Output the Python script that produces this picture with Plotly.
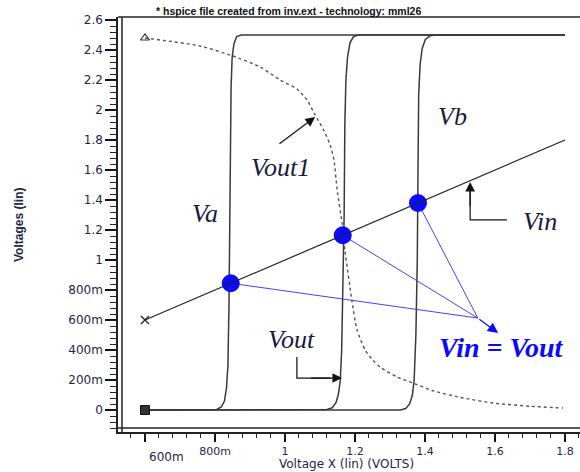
import plotly.graph_objects as go

# --- data -------------------------------------------------------------
# input sweep (straight line Vin = X)
vin_x = [0.6, 1.8]
vin_y = [0.6, 1.8]

# inverter transfer curve Vout1 (dotted)
vout1_x = [0.6, 0.757, 0.851, 0.929, 0.986, 1.034, 1.063, 1.086, 1.109, 1.129,
           1.14, 1.149, 1.163, 1.171, 1.191, 1.206, 1.229, 1.251, 1.271, 1.32,
           1.366, 1.42, 1.509, 1.6, 1.7, 1.794]
vout1_y = [2.48, 2.427, 2.36, 2.287, 2.2, 2.14, 2.067, 1.967, 1.873, 1.767,
           1.667, 1.467, 1.247, 1.067, 0.733, 0.533, 0.4, 0.333, 0.287, 0.22,
           0.18, 0.13, 0.08, 0.045, 0.025, 0.013]

# step responses Va, Vout, Vb
va_x = [0.6, 0.79, 0.805, 0.818, 0.827, 0.833, 0.837, 0.840, 0.842, 0.844,
        0.846, 0.849, 0.854, 0.862, 0.875, 1.8]
va_y = [0.0, 0.0, 0.004, 0.02, 0.06, 0.15, 0.3, 0.7, 1.2, 1.8,
        2.15, 2.35, 2.44, 2.49, 2.5, 2.5]

vout_x = [0.6, 1.10, 1.12, 1.135, 1.146, 1.153, 1.158, 1.162, 1.166, 1.169,
          1.171, 1.174, 1.179, 1.186, 1.196, 1.21, 1.8]
vout_y = [0.0, 0.0, 0.003, 0.015, 0.05, 0.11, 0.2, 0.4, 0.8, 1.3,
          1.9, 2.2, 2.36, 2.45, 2.49, 2.5, 2.5]

vb_x = [0.6, 1.33, 1.345, 1.356, 1.364, 1.369, 1.374, 1.378, 1.380, 1.382,
        1.386, 1.392, 1.401, 1.415, 1.43, 1.8]
vb_y = [0.0, 0.0, 0.01, 0.04, 0.1, 0.2, 0.5, 1.0, 1.6, 2.1,
        2.3, 2.41, 2.47, 2.495, 2.5, 2.5]

# switching points where Vin = Vout
sw_x = [0.845, 1.165, 1.38]
sw_y = [0.845, 1.165, 1.38]

# axis ticks
x_tickvals = [0.6, 0.8, 1.0, 1.2, 1.4, 1.6, 1.8]
x_ticktext = ["", "800m", "1", "1.2", "1.4", "1.6", "1.8"]
y_tickvals = [0, 0.2, 0.4, 0.6, 0.8, 1.0, 1.2, 1.4, 1.6, 1.8, 2.0, 2.2, 2.4, 2.6]
y_ticktext = ["0", "200m", "400m", "600m", "800m", "1", "1.2", "1.4", "1.6",
              "1.8", "2", "2.2", "2.4", "2.6"]

X_RANGE = [0.5229, 1.8429]
Y_RANGE = [-0.1467, 2.62]
MINOR_STEP = 0.04

# --- styling ----------------------------------------------------------
LBL = "#23264a"
INK = "#1a1a3e"
BLUE = "#0a0aff"
conv = (1.551, 0.613)      # where the blue leader lines meet
tip = (1.609, 0.513)       # arrow tip below them

fig = go.Figure()

# Vin line (drawn on the overlay axes that carry the minor ticks)
fig.add_trace(go.Scatter(x=vin_x, y=vin_y, mode="lines", xaxis="x2", yaxis="y2",
                         line=dict(color="#222", width=1.2), hoverinfo="skip"))
fig.add_trace(go.Scatter(x=vin_x[:1], y=vin_y[:1], mode="markers",
                         marker=dict(symbol="x-thin-open", size=8, color="#222",
                                     line=dict(color="#222", width=1.3))))

# step curves
for xs, ys in [(va_x, va_y), (vout_x, vout_y), (vb_x, vb_y)]:
    fig.add_trace(go.Scatter(x=xs, y=ys, mode="lines",
                             line=dict(color="#3a3a3a", width=1.5),
                             hoverinfo="skip"))
fig.add_trace(go.Scatter(x=va_x[:1], y=va_y[:1], mode="markers",
                         marker=dict(symbol="square", size=9, color="#333",
                                     line=dict(color="#111", width=1))))

# Vout1 dotted
fig.add_trace(go.Scatter(x=vout1_x, y=vout1_y, mode="lines",
                         line=dict(color="#555", width=1.4, dash="dot",
                                   shape="spline", smoothing=0.6),
                         hoverinfo="skip"))
fig.add_trace(go.Scatter(x=vout1_x[:1], y=vout1_y[:1], mode="markers",
                         marker=dict(symbol="triangle-up-open", size=8,
                                     color="#333",
                                     line=dict(color="#333", width=1.2))))

# blue leader lines to the "Vin = Vout" label
for sx, sy in zip(sw_x, sw_y):
    fig.add_trace(go.Scatter(x=[sx, conv[0]], y=[sy, conv[1]], mode="lines",
                             line=dict(color="#4040ff", width=1),
                             hoverinfo="skip"))
fig.add_trace(go.Scatter(x=sw_x, y=sw_y, mode="markers",
                         marker=dict(color=BLUE, size=18, line=dict(width=0))))

# --- axes frame -------------------------------------------------------
shapes = [
    # inner lines of the double frame
    dict(type="line", xref="paper", yref="paper", x0=0, x1=1,
         ysizemode="pixel", yanchor=0, y0=4, y1=4,
         line=dict(color="#222", width=1.5)),
    dict(type="line", xref="paper", yref="paper", y0=0, y1=1,
         xsizemode="pixel", xanchor=0, x0=4, x1=4,
         line=dict(color="#222", width=1.5)),
    # top border
    dict(type="line", xref="paper", yref="paper", x0=0, x1=1, y0=1, y1=1,
         line=dict(color="#222", width=1.5)),
    # elbow leaders for "Vin" and "Vout"
    dict(type="path", xref="x", yref="y",
         path="M 1.634 1.267 L 1.529 1.267 L 1.529 1.49",
         line=dict(color="#111", width=1.2)),
    dict(type="path", xref="x", yref="y",
         path="M 1.034 0.353 L 1.034 0.213 L 1.13 0.213",
         line=dict(color="#111", width=1.2)),
]

serif = dict(family="Liberation Serif", size=26, color=INK, style="italic")
annotations = [
    dict(text="* hspice file created from inv.ext - technology: mml26",
         xref="paper", yref="paper", x=0.37, y=1.0145, showarrow=False,
         yanchor="middle",
         font=dict(family="Liberation Sans", size=10.5, color="#111",
                   weight="bold")),
    dict(text="Voltage X (lin) (VOLTS)", xref="paper", yref="paper",
         x=0.495, y=-0.0771, showarrow=False, yanchor="middle",
         font=dict(family="DejaVu Sans", size=12, color=LBL)),
    dict(text="Voltages (lin)", xref="paper", yref="paper", x=-0.2143,
         y=0.4988, textangle=-90, showarrow=False, xanchor="center",
         font=dict(family="Liberation Sans", size=12, color=LBL,
                   weight="bold")),
    dict(text="600m", xref="paper", yref="paper", x=0.0628, y=-0.0602,
         showarrow=False, yanchor="middle",
         font=dict(family="DejaVu Sans", size=12, color=LBL)),
    dict(text="Vout1", x=0.986, y=1.62, showarrow=False, font=serif),
    dict(text="Va", x=0.771, y=1.313, showarrow=False, font=serif),
    dict(text="Vb", x=1.48, y=1.96, showarrow=False, font=serif),
    dict(text="Vin", x=1.729, y=1.26, showarrow=False, font=serif),
    dict(text="Vout", x=1.02, y=0.467, showarrow=False, font=serif),
    dict(text="Vin = Vout", x=1.62, y=0.42, showarrow=False,
         font=dict(family="Liberation Serif", size=28, color=BLUE,
                   style="italic", weight="bold")),
    # arrows
    dict(x=1.086, y=1.953, ax=0.98, ay=1.767, axref="x", ayref="y",
         xref="x", yref="y", text="", showarrow=True, arrowhead=2,
         arrowsize=1.6, arrowwidth=1.2, arrowcolor="#111"),
    dict(x=1.529, y=1.52, ax=1.529, ay=1.35, axref="x", ayref="y",
         xref="x", yref="y", text="", showarrow=True, arrowhead=2,
         arrowsize=1.6, arrowwidth=1.2, arrowcolor="#111"),
    dict(x=1.163, y=0.213, ax=1.07, ay=0.213, axref="x", ayref="y",
         xref="x", yref="y", text="", showarrow=True, arrowhead=2,
         arrowsize=1.6, arrowwidth=1.2, arrowcolor="#111"),
    dict(x=tip[0], y=tip[1], ax=conv[0], ay=conv[1], axref="x", ayref="y",
         xref="x", yref="y", text="", showarrow=True, arrowhead=2,
         arrowsize=1.6, arrowwidth=1.3, arrowcolor=BLUE),
]

fig.update_layout(
    width=580, height=472,
    margin=dict(l=118, r=0, t=17, b=40),
    paper_bgcolor="white", plot_bgcolor="white",
    showlegend=False,
    shapes=shapes,
    annotations=annotations,
    # main axes: long ticks with labels
    xaxis=dict(range=X_RANGE, showgrid=False, zeroline=False,
               showline=True, linecolor="#222", linewidth=1.5,
               ticks="outside", ticklen=8, tickwidth=1.6, tickcolor="#111",
               tickmode="array", tickvals=x_tickvals, ticktext=x_ticktext,
               tickfont=dict(family="DejaVu Sans", size=11, color=LBL)),
    yaxis=dict(range=Y_RANGE, showgrid=False, zeroline=False,
               showline=True, linecolor="#222", linewidth=1.5,
               ticks="outside", ticklen=11, tickwidth=1.6, tickcolor="#111",
               tickmode="array", tickvals=y_tickvals, ticktext=y_ticktext,
               tickfont=dict(family="DejaVu Sans", size=12, color=LBL)),
    # overlay axes: short minor ticks
    xaxis2=dict(range=X_RANGE, overlaying="x", anchor="y", side="bottom",
                showgrid=False, zeroline=False, showline=False,
                showticklabels=False, ticks="outside", ticklen=5,
                tickwidth=1.2, tickcolor="#222",
                tickmode="linear", tick0=0.6, dtick=MINOR_STEP),
    yaxis2=dict(range=Y_RANGE, overlaying="y", anchor="x", side="left",
                showgrid=False, zeroline=False, showline=False,
                showticklabels=False, ticks="outside", ticklen=7,
                tickwidth=1.2, tickcolor="#222",
                tickmode="linear", tick0=0, dtick=MINOR_STEP),
)

fig.write_html("out.html")
